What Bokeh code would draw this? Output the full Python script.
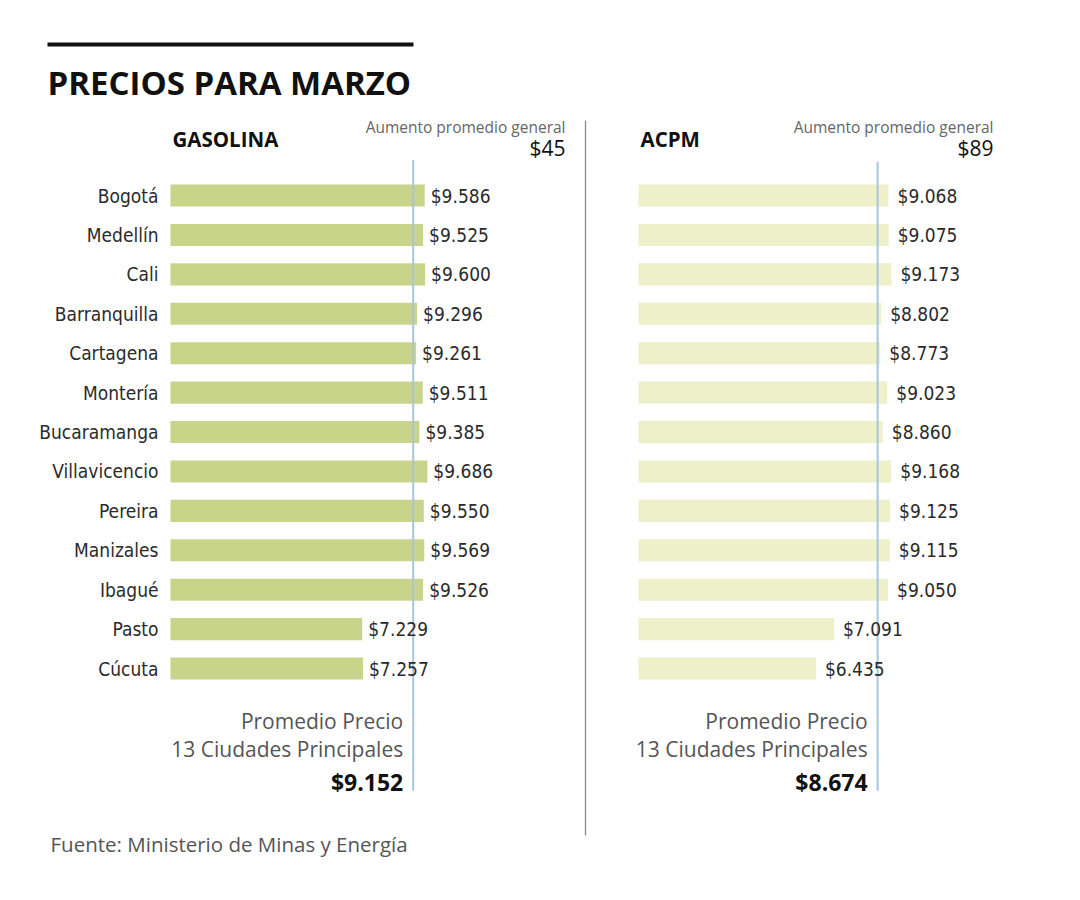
from bokeh.plotting import figure
from bokeh.models import Range1d, ColumnDataSource
from bokeh.core.properties import value
from bokeh.embed import file_html
from bokeh.resources import INLINE

# ---------------- data ----------------
cities = ["Bogotá", "Medellín", "Cali", "Barranquilla", "Cartagena", "Montería",
          "Bucaramanga", "Villavicencio", "Pereira", "Manizales", "Ibagué", "Pasto", "Cúcuta"]
gasolina = [9586, 9525, 9600, 9296, 9261, 9511, 9385, 9686, 9550, 9569, 9526, 7229, 7257]
acpm = [9068, 9075, 9173, 8802, 8773, 9023, 8860, 9168, 9125, 9115, 9050, 7091, 6435]
gas_avg = 9152
acpm_avg = 8674
gas_increase = 45
acpm_increase = 89

def fmt(v):
    return "$" + f"{v:,}".replace(",", ".")

# ---------------- layout ----------------
W, H = 1064, 884
COND = value("'DejaVu Sans Condensed', 'Liberation Sans Narrow', Roboto")
SANS = value("Open Sans")

p = figure(width=W, height=H, output_backend="svg", toolbar_location=None,
           x_range=Range1d(0, W), y_range=Range1d(H, 0),
           min_border=0, outline_line_color=None)
p.axis.visible = False
p.grid.visible = False
p.background_fill_color = "white"
p.border_fill_color = "white"

# value scales (pixel anchor of zero, px per unit)
def xr(zero_px, k):
    return Range1d((0 - zero_px) / k, (W - zero_px) / k)

row0, step = 195.0, 39.42
p.extra_x_ranges = {"gas": xr(170, 0.02652), "acpm": xr(638, 0.02757)}
p.extra_y_ranges = {"rows": Range1d((H - row0) / step, (0 - row0) / step)}

idx = list(range(len(cities)))
src = ColumnDataSource(dict(
    y=idx, city=cities, gas=gasolina, acpm=acpm,
    gas_lbl=[fmt(v) for v in gasolina], acpm_lbl=[fmt(v) for v in acpm],
    zero=[0] * len(cities)))

TXT = "#2b2b2b"

# bars
p.hbar(y="y", left=0, right="gas", height=0.56, source=src, fill_color="#c8d48a",
       line_color=None, x_range_name="gas", y_range_name="rows")
p.hbar(y="y", left=0, right="acpm", height=0.56, source=src, fill_color="#eef0c9",
       line_color=None, x_range_name="acpm", y_range_name="rows")

# average lines
p.segment(x0=[gas_avg], x1=[gas_avg], y0=[-0.9], y1=[15.1], line_color="#a6c6db",
          line_width=2, x_range_name="gas", y_range_name="rows")
p.segment(x0=[acpm_avg], x1=[acpm_avg], y0=[-0.85], y1=[15.1], line_color="#a6c6db",
          line_width=2, x_range_name="acpm", y_range_name="rows")

# city labels
p.text(x="zero", y="y", text="city", source=src, x_offset=-12, text_align="right",
       text_baseline="middle", text_font=COND, text_font_size="19px", text_color=TXT,
       x_range_name="gas", y_range_name="rows")
# value labels
p.text(x="gas", y="y", text="gas_lbl", source=src, x_offset=6, text_align="left",
       text_baseline="middle", text_font=COND, text_font_size="19px", text_color=TXT,
       x_range_name="gas", y_range_name="rows")
p.text(x="acpm", y="y", text="acpm_lbl", source=src, x_offset=9, text_align="left",
       text_baseline="middle", text_font=COND, text_font_size="19px", text_color=TXT,
       x_range_name="acpm", y_range_name="rows")

# title and rules
p.segment(x0=[47], x1=[413], y0=[44], y1=[44], line_color="#111111", line_width=4)
p.text(x=[47], y=[82], text=["PRECIOS PARA MARZO"], text_align="left", text_baseline="middle",
       text_font=SANS, text_font_style="bold", text_font_size="33px", text_color="#111111")
p.segment(x0=[585], x1=[585], y0=[120], y1=[835], line_color="#8a8a8a", line_width=1.3)

# panel headers
p.text(x=[172, 640], y=[138, 138], text=["GASOLINA", "ACPM"], text_align="left",
       text_baseline="middle", text_font=SANS, text_font_style="bold", text_font_size="20.5px",
       text_color="#111111")
p.text(x=[565, 993], y=[126, 126], text=["Aumento promedio general"] * 2, text_align="right",
       text_baseline="middle", text_font=SANS, text_font_size="15.5px", text_color="#666666")
p.text(x=[565, 993], y=[147, 147], text=["$" + str(gas_increase), "$" + str(acpm_increase)],
       text_align="right", text_baseline="middle", text_font=SANS, text_font_size="21px",
       text_color="#111111")

# average notes
for rng, avg in (("gas", gas_avg), ("acpm", acpm_avg)):
    p.text(x=[avg, avg], y=[13.34, 14.03], text=["Promedio Precio", "13 Ciudades Principales"],
           x_offset=-10, text_align="right", text_baseline="middle", text_font=SANS,
           text_font_size="21px", text_color="#555555", x_range_name=rng, y_range_name="rows")
    p.text(x=[avg], y=[14.89], text=[fmt(avg)], x_offset=-10, text_align="right",
           text_baseline="middle", text_font=SANS, text_font_style="bold",
           text_font_size="23px", text_color="#111111", x_range_name=rng, y_range_name="rows")

# source
p.text(x=[50], y=[843], text=["Fuente: Ministerio de Minas y Energía"], text_align="left",
       text_baseline="middle", text_font=SANS, text_font_size="20.5px", text_color="#555555")

open("out.html", "w").write(file_html(p, INLINE))
